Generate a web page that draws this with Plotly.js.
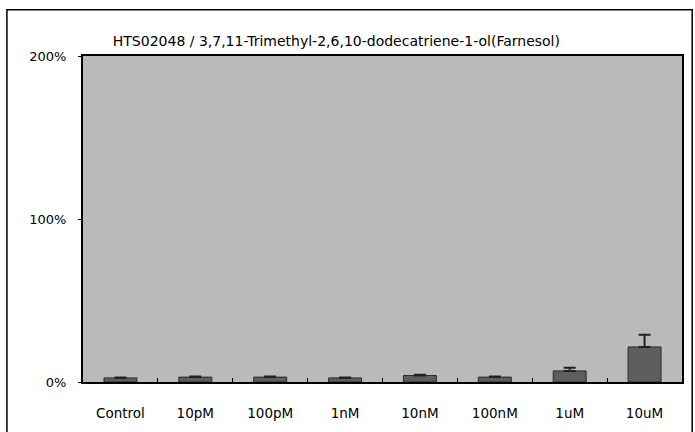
<!DOCTYPE html>
<html><head><meta charset="utf-8">
<script src="https://cdn.plot.ly/plotly-3.0.1.min.js"></script>
<style>html,body{margin:0;padding:0;background:#fff}#c{width:695px;height:432px}</style>
</head><body><div id="c"></div>
<script>
const categories = ["Control","10pM","100pM","1nM","10nM","100nM","1uM","10uM"];
const values = [2.5, 3, 3, 2.5, 4, 3, 6.8, 21.5];
const errors = [0.3, 0.3, 0.3, 0.3, 0.5, 0.3, 1.9, 7.5];
const yTickVals = [0, 100, 200];
const yTickText = ["0%", "100%", "200%"];
const titleText = "HTS02048 / 3,7,11-Trimethyl-2,6,10-dodecatriene-1-ol(Farnesol)";

Plotly.newPlot("c", [{
  type: "bar",
  x: categories,
  y: values,
  marker: {color: "#5e5e5e", line: {color: "#2a2a2a", width: 1}},
  error_y: {type: "data", array: errors, symmetric: false, arrayminus: values.map(() => 0), color: "#222", thickness: 2, width: 6}
}], {
  width: 695, height: 432,
  margin: {l: 83, r: 13, t: 56, b: 50},
  paper_bgcolor: "#fff",
  plot_bgcolor: "#bababa",
  bargap: 0.56,
  showlegend: false,
  title: {text: titleText, font: {family: "DejaVu Sans", size: 14, color: "#000"}, xref: "container", x: 0.484, xanchor: "center", yref: "container", y: 0.905, yanchor: "middle"},
  font: {family: "DejaVu Sans", size: 13, color: "#000"},
  xaxis: {showline: true, linecolor: "#000", linewidth: 2, mirror: true, ticks: "inside", tickson: "boundaries", ticklen: 4, tickcolor: "#000", ticklabelstandoff: 18, tickfont: {size: 13.5}, fixedrange: true},
  yaxis: {range: [0, 200], tickvals: yTickVals, ticktext: yTickText, showgrid: false, zeroline: false, showline: true, linecolor: "#000", linewidth: 2, mirror: true, ticks: "outside", ticklen: 3, tickcolor: "#000", ticklabelstandoff: 9, tickfont: {size: 13}},
  shapes: [{type: "rect", xref: "paper", yref: "paper", x0: -0.127, x1: 1.017, y0: -0.158, y1: 1.142, line: {color: "#000", width: 1.5}}]
}, {displayModeBar: false, staticPlot: true});
</script></body></html>
